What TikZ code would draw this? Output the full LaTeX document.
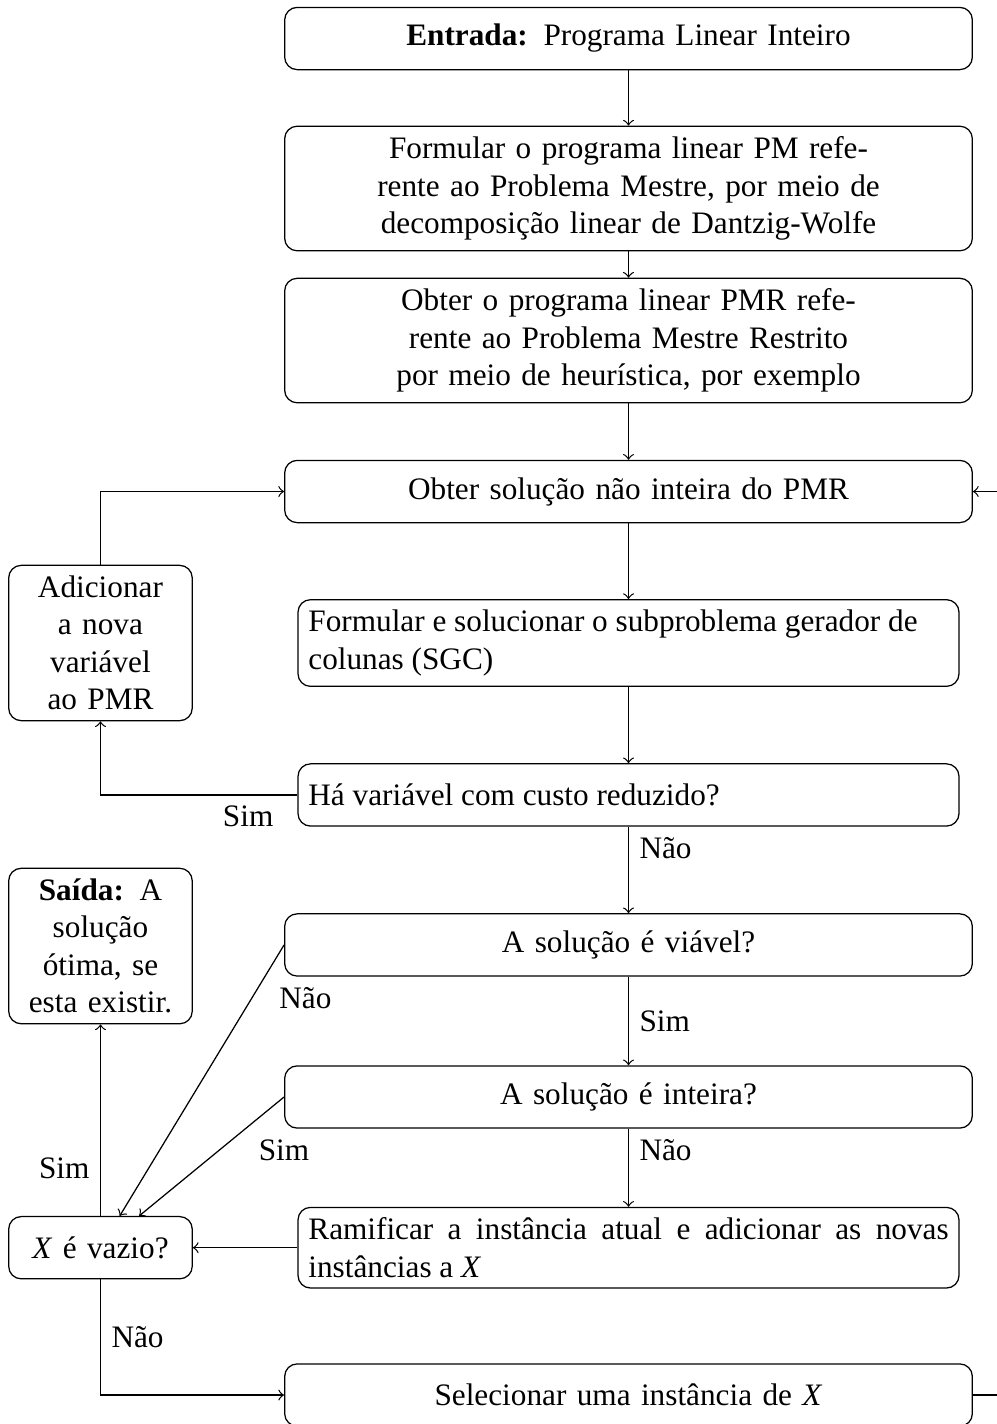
\documentclass[tikz,border=0pt]{standalone}
\usepackage{fontspec}
\setmainfont{Liberation Serif}
\usepackage{tikz}

\begin{document}
\begin{tikzpicture}[
        passo/.style={draw, rounded corners, text width=7.5cm, align=center, minimum height=0.7cm},
        passoesq/.style={draw, rounded corners, text width=7.2cm, align=justify, minimum height=0.7cm},
        lateral/.style={draw, rounded corners, text width=1.83cm, align=center, minimum height=0.7cm}]
        \useasboundingbox (0,0) rectangle (11.213,-16.016);
        % coluna principal
        \node[passo] (entrada) at (7.069,-0.433) {\textbf{Entrada:} Programa Linear Inteiro};
        \node[passo] (pm) at (7.069,-2.120) {Formular o programa linear PM refe-\\rente ao Problema Mestre, por meio de\\decomposição linear de Dantzig-Wolfe};
        \node[passo] (pmr) at (7.069,-3.830) {Obter o programa linear PMR refe-\\rente ao Problema Mestre Restrito\\por meio de heurística, por exemplo};
        \node[passo] (sol) at (7.069,-5.528) {Obter solução não inteira do PMR};
        \node[passoesq] (sgc) at (7.069,-7.232) {Formular e solucionar o subproblema gerador de\\colunas (SGC)};
        \node[passoesq] (ha) at (7.069,-8.941) {Há variável com custo reduzido?};
        \node[passo] (viavel) at (7.069,-10.628) {A solução é viável?};
        \node[passo] (inteira) at (7.069,-12.338) {A solução é inteira?};
        \node[passoesq] (ramif) at (7.069,-14.033) {Ramificar a instância atual e adicionar as novas\linebreak instâncias a \textit{X}};
        \node[passo] (selec) at (7.069,-15.69) {Selecionar uma instância de \textit{X}};
        % coluna lateral
        \node[lateral] (adic) at (1.130,-7.232) {Adicionar\\a nova\\variável\\ao PMR};
        \node[lateral] (saida) at (1.130,-10.640) {\textbf{Saída:} A\\solução\\ótima, se\\esta existir.};
        \node[lateral] (vazio) at (1.130,-14.033) {\textit{X} é vazio?};
        % setas
        \draw[->] (entrada) -- (pm);
        \draw[->] (pm) -- (pmr);
        \draw[->] (pmr) -- (sol);
        \draw[->] (sol) -- (sgc);
        \draw[->] (sgc) -- (ha);
        \draw[->] (ha.west) -| node[pos=0.125, below] (simha) {Sim} (adic.south);
        \draw[->] (adic.north) |- (sol.west);
        \draw[->] (ha) -- node[pos=0, below right] (naoha) {Não} (viavel);
        \draw[->] (viavel) -- node[midway, right] (simviavel) {Sim} (inteira);
        \draw[->] (inteira) -- node[pos=0, below right] (naointeira) {Não} (ramif);
        \draw[->] (viavel.west) -- (vazio);
        \node[below, xshift=2.4mm] (naoviavel) at (viavel.south west) {Não};
        \draw[->] (inteira.west) -- (vazio);
        \node[below] (siminteira) at (inteira.south west) {Sim};
        \draw[->] (ramif) -- (vazio);
        \draw[->] (vazio) -- node[near start, left] (simvazio) {Sim} (saida);
        \draw[->] (vazio.south) |- node[near start, right] (naovazio) {Não} (selec.west);
        \draw[->] (selec.east) -- ++(0.6,0) |- (sol.east);
\end{tikzpicture}
\end{document}
